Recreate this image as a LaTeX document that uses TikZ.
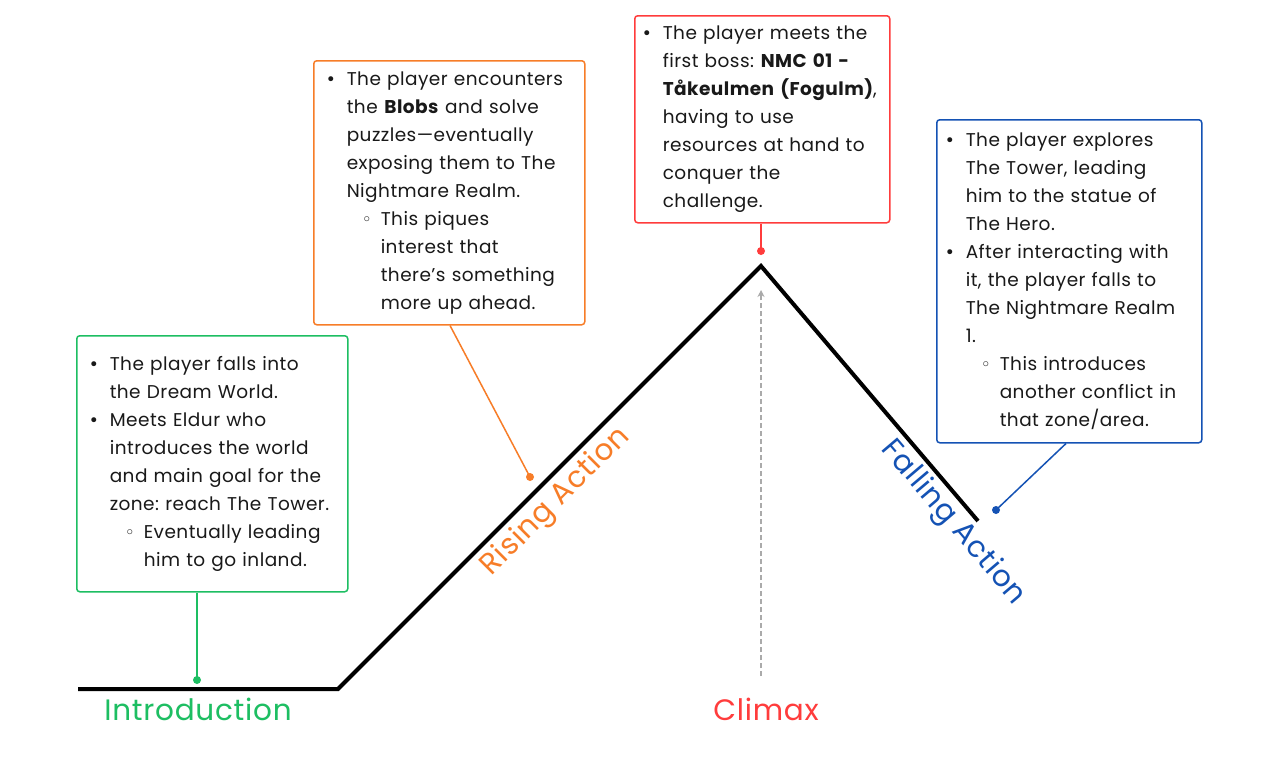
\documentclass[tikz,border=0pt]{standalone}
\usepackage{fontspec}
\setmainfont{Poppins}[LetterSpace=2.5]
\newfontfamily\dv{DejaVu Sans}
\usetikzlibrary{arrows.meta,calc}
\definecolor{cgreen}{RGB}{29,190,98}
\definecolor{corange}{RGB}{247,125,40}
\definecolor{cred}{RGB}{255,60,60}
\definecolor{cblue}{RGB}{20,82,180}
\definecolor{ctext}{RGB}{25,25,25}
\definecolor{cgrey}{RGB}{170,170,170}
\frenchspacing
\newcommand\bu{\makebox[19pt][l]{\hspace*{-2pt}\dv\fontsize{17}{17}\selectfont •}}
\newcommand\ii{\hspace*{19pt}}
\newcommand\sbu{\hspace*{34pt}\makebox[19pt][l]{\dv\fontsize{17}{17}\selectfont ◦}}
\newcommand\si{\hspace*{53pt}}
\tikzset{
  infobox/.style={draw=#1, line width=1.5pt, rounded corners=3pt, anchor=north west,
    inner ysep=0pt, align=left, text=ctext,
    font=\fontsize{18.5}{28}\selectfont},
  link/.style={draw=#1, line width=1.5pt},
  dotmark/.style={fill=#1},
  arc line/.style={line width=4pt, miter limit=10},
  phase/.style={text=#1, font=\fontsize{29.5}{30}\selectfont, inner sep=0pt},
  guide/.style={draw=cgrey, line width=1.6pt, dash pattern=on 5pt off 3pt, -{Stealth[length=7pt,width=7pt]}}
}
\begin{document}
\begin{tikzpicture}[x=1pt,y=-1pt]
\useasboundingbox[fill=white] (0,0) rectangle (1280,769);

% main arc
\coordinate (p0) at (78,689);
\coordinate (p1) at (338,689);
\coordinate (p2) at (761,266);
\coordinate (p3) at (978,521);
\draw[arc line] (p0) -- (p1) -- (p2) -- (p3);

% grey guide arrow
\coordinate (a0) at (761,676);
\coordinate (a1) at (761,290);
\draw[guide] (a0) -- (a1);

% boxes
\node[infobox=cgreen, text width=243pt, inner xsep=14pt, minimum height=256pt] (intro) at (76,335) {%
\bu The player falls into\\
\ii the Dream World.\\
\bu Meets Eldur who\\
\ii introduces the world\\
\ii and main goal for the\\
\ii zone: reach The Tower.\\
\sbu Eventually leading\\
\si him to go inland.};

\node[infobox=corange, text width=243pt, inner xsep=14pt, minimum height=264pt] (rise) at (313,60) {%
\bu The player encounters\\
\ii the \textbf{Blobs} and solve\\
\ii puzzles—eventually\\
\ii exposing them to The\\
\ii Nightmare Realm.\\
\sbu This piques\\
\si interest that\\
\si there’s something\\
\si more up ahead.};

\node[infobox=cred, text width=237pt, inner xsep=9pt, minimum height=207pt] (peak) at (634,15) {%
\bu The player meets the\\
\ii first boss: \textbf{NMC 01 -}\\
\ii \textbf{Tåkeulmen (Fogulm)},\\
\ii having to use\\
\ii resources at hand to\\
\ii conquer the\\
\ii challenge.};

\node[infobox=cblue, text width=245pt, inner xsep=10pt, minimum height=323pt] (fall) at (936,119) {%
\bu The player explores\\
\ii The Tower, leading\\
\ii him to the statue of\\
\ii The Hero.\\
\bu After interacting with\\
\ii it, the player falls to\\
\ii The Nightmare Realm\\
\ii 1.\\
\sbu This introduces\\
\si another conflict in\\
\si that zone/area.};

% dots and connectors
\coordinate (d1) at (197,680);
\coordinate (d2) at (530,477);
\coordinate (d3) at (761,251);
\coordinate (d4) at (996,510);
\coordinate (s2) at ([xshift=137pt]rise.south west);
\coordinate (s4) at ([xshift=130pt]fall.south west);
\draw[link=cgreen] (d1 |- intro.south) -- (d1);
\draw[link=corange] (s2) -- (d2);
\draw[link=cred] (d3 |- peak.south) -- (d3);
\draw[link=cblue] (s4) -- (d4);
\fill[dotmark=cgreen] (d1) circle[radius=4pt];
\fill[dotmark=corange] (d2) circle[radius=4pt];
\fill[dotmark=cred] (d3) circle[radius=4pt];
\fill[dotmark=cblue] (d4) circle[radius=4pt];

% phase labels
\node[phase=cgreen] (lintro) at (198,709) {Introduction};
\node[phase=cred] (lclimax) at (766,709) {Climax};
\node[phase=corange, rotate=45] (lrise) at (556,502) {Rising Action};
\node[phase=cblue, rotate=-49.6] (lfall) at (953,523) {Falling Action};
\end{tikzpicture}
\end{document}
